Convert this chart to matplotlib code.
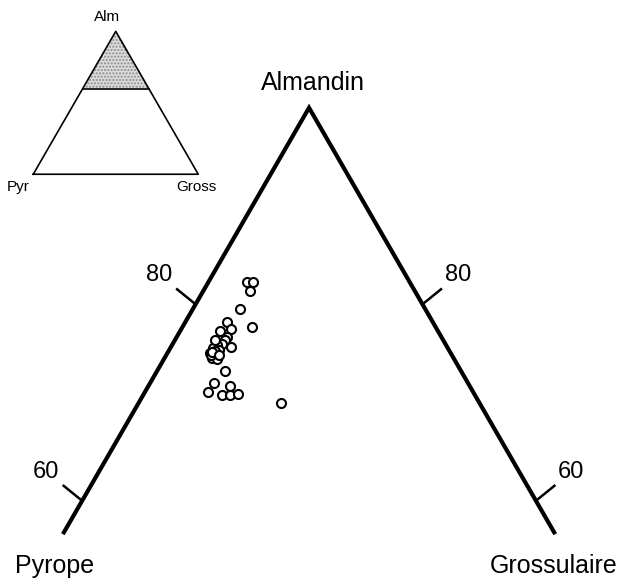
import numpy as np
import matplotlib.pyplot as plt

# garnet compositions, mol-% (Almandin, Grossulaire); Pyrope = rest
alm = [82.3, 82.3, 81.4, 79.5, 77.7, 78.2, 77.3, 77.5, 76.7, 76.4, 76.0, 75.9, 75.5,
       75.3, 75.6, 75.0, 74.5, 74.4, 75.2, 74.8, 76.4, 75.1, 74.8,
       73.2, 72.0, 71.1, 70.8, 71.7, 70.8, 70.9, 70.0]
gross = [3.4, 3.9, 4.1, 4.2, 6.1, 3.7, 3.5, 4.4, 4.4, 4.4, 4.3, 3.9, 3.8,
         4.4, 5.3, 3.8, 4.2, 4.7, 4.1, 4.0, 3.5, 3.9, 4.7,
         6.0, 5.6, 5.5, 6.9, 7.2, 7.6, 8.3, 12.5]

tick_values = [80, 60]
alm_min = 56.6          # lower end of the drawn section
inset_cut = 60          # shaded part of the small triangle


def tern(a, g):
    a = np.asarray(a) / 100.0
    g = np.asarray(g) / 100.0
    return g + a / 2, a * np.sqrt(3) / 2


plt.rcParams['font.family'] = ['Liberation Sans', 'DejaVu Sans']
fig = plt.figure(figsize=(6.25, 5.81), dpi=100)

ax = fig.add_axes([0, 0, 1, 1])
ax.set_xlim(0.2276, 0.2276 + 0.5509)
ax.set_ylim(0.4489, 0.9610)
ax.axis('off')

# triangle section
top = tern(100, 0)
left = tern(alm_min, 0)
right = tern(alm_min, 100 - alm_min)
ax.plot([left[0], top[0], right[0]], [left[1], top[1], right[1]], color='k',
        lw=3.0, solid_joinstyle='miter', solid_capstyle='butt')

# ticks on both sides
tl = 0.021
ang = np.radians(39)
for v in tick_values:
    xl, yl = tern(v, 0)
    xr, yr = tern(v, 100 - v)
    ax.plot([xl, xl - tl * np.cos(ang)], [yl, yl + tl * np.sin(ang)], color='k', lw=1.8)
    ax.plot([xr, xr + tl * np.cos(ang)], [yr, yr + tl * np.sin(ang)], color='k', lw=1.8)
    ax.annotate(str(v), (xl - tl * np.cos(ang), yl + tl * np.sin(ang)),
                xytext=(-13, 10), textcoords='offset points', ha='center', va='center',
                fontsize=17)
    ax.annotate(str(v), (xr + tl * np.cos(ang), yr + tl * np.sin(ang)),
                xytext=(12, 10), textcoords='offset points', ha='center', va='center',
                fontsize=17)

ax.annotate('Almandin', top, xytext=(3, 18), textcoords='offset points',
            ha='center', va='center', fontsize=18)
ax.annotate('Pyrope', left, xytext=(-6, -23), textcoords='offset points',
            ha='center', va='center', fontsize=18)
ax.annotate('Grossulaire', right, xytext=(-1, -23), textcoords='offset points',
            ha='center', va='center', fontsize=18)

# data points
px, py = tern(alm, gross)
ax.plot(px, py, 'o', ms=6.5, mfc='white', mec='k', mew=1.5, ls='none')

# small overview triangle
ax2 = fig.add_axes([0.0136, 0.6575, 0.3432, 0.3266])
ax2.set_xlim(-0.15, 1.15)
ax2.set_ylim(-0.15, 1.0)
ax2.axis('off')
a_top = tern(100, 0)
a_l = tern(0, 0)
a_r = tern(0, 100)
c_l = tern(inset_cut, 0)
c_r = tern(inset_cut, 100 - inset_cut)
ax2.fill([c_l[0], a_top[0], c_r[0]], [c_l[1], a_top[1], c_r[1]],
         facecolor='#dcdcdc', edgecolor='#8a8a8a', hatch='.....', lw=0)
ax2.plot([a_l[0], a_top[0], a_r[0], a_l[0]], [a_l[1], a_top[1], a_r[1], a_l[1]],
         color='k', lw=1.2)
ax2.plot([c_l[0], c_r[0]], [c_l[1], c_r[1]], color='k', lw=1.2)
ax2.annotate('Alm', a_top, xytext=(-6, 10), textcoords='offset points',
             ha='center', va='center', fontsize=11)
ax2.annotate('Pyr', a_l, xytext=(-11, -9), textcoords='offset points',
             ha='center', va='center', fontsize=11)
ax2.annotate('Gross', a_r, xytext=(-1, -9), textcoords='offset points',
             ha='center', va='center', fontsize=11)

plt.savefig('out.png', dpi=100)
